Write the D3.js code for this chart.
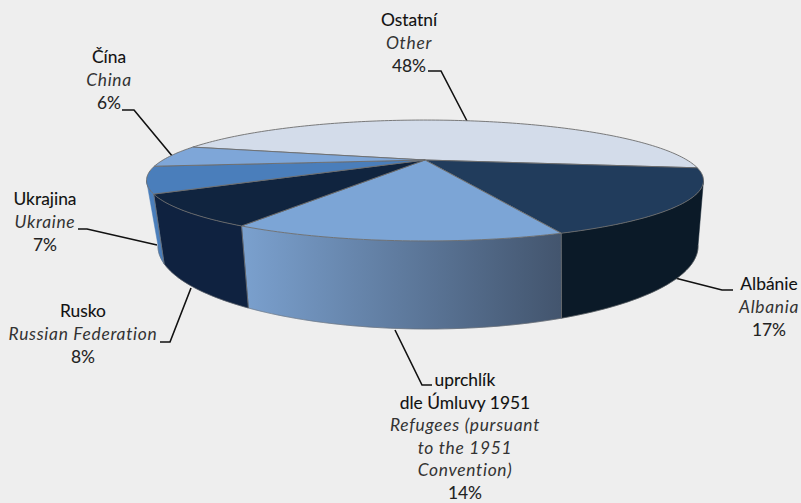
<!DOCTYPE html>
<html><head><meta charset="utf-8">
<script src="https://cdn.jsdelivr.net/npm/d3@7"></script>
<style>html,body{margin:0;padding:0;background:#eeeeee}svg{display:block}
text{font-family:Lato,"Open Sans",sans-serif;font-size:17.4px;text-anchor:middle}
.cz{fill:#111;stroke:#111;stroke-width:.1}.en{fill:#333;font-style:italic;letter-spacing:.7px}.pc{fill:#222;stroke:#222;stroke-width:.08}</style>
</head><body><svg id="c" width="801" height="503"></svg>
<script>
const keys=["other","albania","refugees","russia","ukraine","china"];
const values=[48,17,14,8,7,6];
const topColors=["#d3dcea","#213c5c","#7ca5d6","#10243f","#4a7ebb","#7ea6d8"];
const wallColors=["#9aa6b5","#0b1a28","url(#refWall)","#0f2240","#4a7ebb","#5f86b5"];
const labels=[
 {lines:[["Ostatní","cz"],["Other","en"],["48%","pc"]],x:409,y:26,dy:23,leader:[[428,71],[441,71],[467,121]]},
 {lines:[["Albánie","cz"],["Albania","en"],["17%","pc"]],x:769,y:290,dy:23,leader:[[733,290],[722,290],[675,278]]},
 {lines:[["uprchlík","cz"],["dle Úmluvy 1951","cz"],["Refugees (pursuant","en"],["to the 1951","en"],["Convention)","en"],["14%","pc"]],x:465,y:386,dy:22.6,leader:[[432,385],[422,385],[395,330]]},
 {lines:[["Rusko","cz"],["Russian Federation","en"],["8%","pc"]],x:83,y:317,dy:23,leader:[[160,342],[170,342],[191,288]]},
 {lines:[["Ukrajina","cz"],["Ukraine","en"],["7%","pc"]],x:45,y:205,dy:23,leader:[[78,229],[87,229],[157,245]]},
 {lines:[["Čína","cz"],["China","en"],["6%","pc"]],x:109,y:63,dy:23,leader:[[122,110],[134,110],[173,157]]}
];
const svg=d3.select("#c");
const defs=svg.append("defs");
const g=defs.append("linearGradient").attr("id","refWall").attr("gradientUnits","userSpaceOnUse")
 .attr("x1",240).attr("x2",560).attr("y1",0).attr("y2",0);
g.append("stop").attr("offset",0).attr("stop-color","#7ba1cf");
g.append("stop").attr("offset",1).attr("stop-color","#43556e");

const startAngle=(8-172.8)*Math.PI/180;
const pie=d3.pie().sort(null).value(d=>d).startAngle(startAngle).endAngle(startAngle+2*Math.PI);
const arcs=pie(values);
const topPlane={cx:425,cy:160,A:262,B:53.5,k:0.339};
const botPlane={cx:428,cy:217,A:253,B:72.8,k:0.35};
const proj=(p,a)=>{const X=Math.cos(a),Y=Math.sin(a),s=1/(1-p.k*Y);return [p.cx+p.A*X*s,p.cy+p.B*Y*s];};
const sweep=(p,a0,a1)=>{const n=Math.max(2,Math.ceil((a1-a0)/0.02));return d3.range(n+1).map(i=>proj(p,a0+(a1-a0)*i/n));};
const line=d3.line();

const lg=svg.append("g");
labels.forEach(l=>lg.append("path").attr("d",line(l.leader)).attr("fill","none").attr("stroke","#111").attr("stroke-width",1.6));

// only the viewer-facing part of the rim is drawn, between the silhouette angles
const rimFrom=Math.asin(topPlane.k), rimTo=Math.PI-rimFrom;
arcs.forEach((d,i)=>{
 const a0=Math.max(d.startAngle,rimFrom), a1=Math.min(d.endAngle,rimTo);
 if(a1<=a0) return;
 const pts=sweep(topPlane,a0,a1).concat(sweep(botPlane,a0,a1).reverse());
 svg.append("path").attr("d",line(pts)+"Z").attr("fill",wallColors[i]).attr("stroke",wallColors[i]).attr("stroke-width",0.5);
 svg.append("path").attr("d",line(sweep(botPlane,a0,a1))).attr("fill","none").attr("stroke","#6d6d6d").attr("stroke-width",0.5);
 if(a0===d.startAngle) svg.append("path").attr("d",line([proj(topPlane,a0),proj(botPlane,a0)])).attr("stroke","#6d6d6d").attr("stroke-width",0.8);
});
arcs.forEach((d,i)=>{
 const pts=[[topPlane.cx,topPlane.cy]].concat(sweep(topPlane,d.startAngle,d.endAngle));
 svg.append("path").attr("d",line(pts)+"Z").attr("fill",topColors[i]).attr("stroke","#6d6d6d").attr("stroke-width",0.9).attr("stroke-linejoin","round");
});
labels.forEach(l=>{l.lines.forEach((t,j)=>{
 svg.append("text").attr("class",t[1]).attr("x",l.x).attr("y",l.y+j*l.dy).text(t[0]);
});});
</script></body></html>
